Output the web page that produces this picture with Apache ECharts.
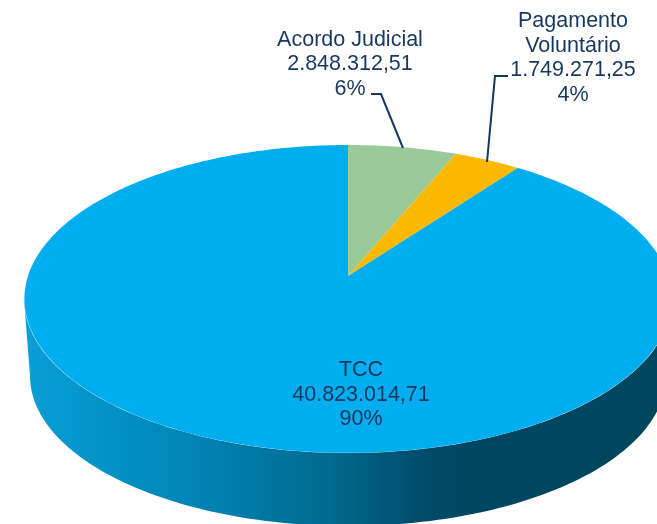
<!DOCTYPE html>
<html>
<head>
<meta charset="utf-8">
<title>Pie</title>
<style>
    html, body { margin: 0; padding: 0; background: #fff; }
    #chart { width: 657px; height: 524px; overflow: hidden; }
</style>
<script src="https://cdn.jsdelivr.net/npm/echarts@6/dist/echarts.min.js"></script>
</head>
<body>
<div id="chart"></div>
<script>
const categories = ['Acordo Judicial', 'Pagamento\nVoluntário', 'TCC'];
const amounts = [2848312.51, 1749271.25, 40823014.71];

const colors = ['#9BC997', '#FBBA00', '#00AEEF'];
const wallStops = [
    { offset: 0, color: '#0A9FD6' },
    { offset: 0.15, color: '#0090C4' },
    { offset: 0.3, color: '#0080B0' },
    { offset: 0.47, color: '#006A8F' },
    { offset: 0.62, color: '#004B69' },
    { offset: 0.7, color: '#00465F' },
    { offset: 1, color: '#00465F' }
];

// where the labels sit and how the leader lines run
const labelLayout = [
    { x: 350, y: 27.5, line: [[371, 94], [381, 94], [403, 148]] },
    { x: 573, y: 9, line: [[508, 76], [495, 76], [487, 162]] },
    { x: 361, y: 358 }
];

// the tilted disc: a circle seen in perspective, centre of the pie is not the centre of the ellipse
const cx = 348, apexY = 276, persp = 0.149, scaleX = 320, scaleY = 150.5;
const project = (angle) => {
    const u = Math.sin(angle), v = Math.cos(angle);
    const w = 1 + persp * v;
    return [cx + scaleX * u / w, apexY - scaleY * v / w];
};
const ellipse = (y0, rx, ry, t) => [cx + rx * Math.cos(t), y0 + ry * Math.sin(t)];

const total = amounts.reduce((a, b) => a + b, 0);
const formatAmount = v => v.toLocaleString('pt-BR', { minimumFractionDigits: 2, maximumFractionDigits: 2 });

const labelFont = '"Liberation Sans", Arial, sans-serif';

function renderSlice(params, api) {
    const i = params.dataIndex;
    const start = amounts.slice(0, i).reduce((a, b) => a + b, 0) / total * Math.PI * 2;
    const end = start + api.value(1) / total * Math.PI * 2;
    const children = [];

    // side wall, only the slice that covers the front of the disc has one in view
    if (start < Math.PI && end > Math.PI) {
        const wall = [];
        for (let s = 0; s <= 120; s++) wall.push(ellipse(376, 318, 150, Math.PI - s / 120 * Math.PI));
        for (let s = 0; s <= 120; s++) wall.push(ellipse(299, 324, 154, s / 120 * Math.PI));
        children.push({
            type: 'polygon',
            shape: { points: wall },
            style: { fill: new echarts.graphic.LinearGradient(0, 0, 1, 0, wallStops) }
        });
    }

    const pts = [[cx, apexY]];
    const steps = Math.max(4, Math.ceil((end - start) * 60));
    for (let s = 0; s <= steps; s++) pts.push(project(start + (end - start) * s / steps));
    children.push({
        type: 'polygon',
        shape: { points: pts },
        style: { fill: colors[i] }
    });

    const layout = labelLayout[i];
    if (layout.line) {
        children.push({
            type: 'polyline',
            shape: { points: layout.line },
            style: { stroke: '#17375E', lineWidth: 2, fill: null }
        });
    }
    children.push({
        type: 'text',
        z2: 10,
        style: {
            text: categories[i] + '\n' + formatAmount(api.value(1)) + '\n' + Math.round(api.value(1) / total * 100) + '%',
            x: layout.x,
            y: layout.y,
            align: 'center',
            verticalAlign: 'top',
            fontFamily: labelFont,
            fontSize: 21.5,
            lineHeight: 24.6,
            fill: '#17375E'
        }
    });
    return { type: 'group', children: children };
}

const chart = echarts.init(document.getElementById('chart'), null, { renderer: 'canvas' });
chart.setOption({
    animation: false,
    backgroundColor: '#fff',
    series: [{
        type: 'custom',
        coordinateSystem: 'none',
        silent: true,
        renderItem: renderSlice,
        data: amounts.map((v, i) => [i, v])
    }]
});
</script>
</body>
</html>
